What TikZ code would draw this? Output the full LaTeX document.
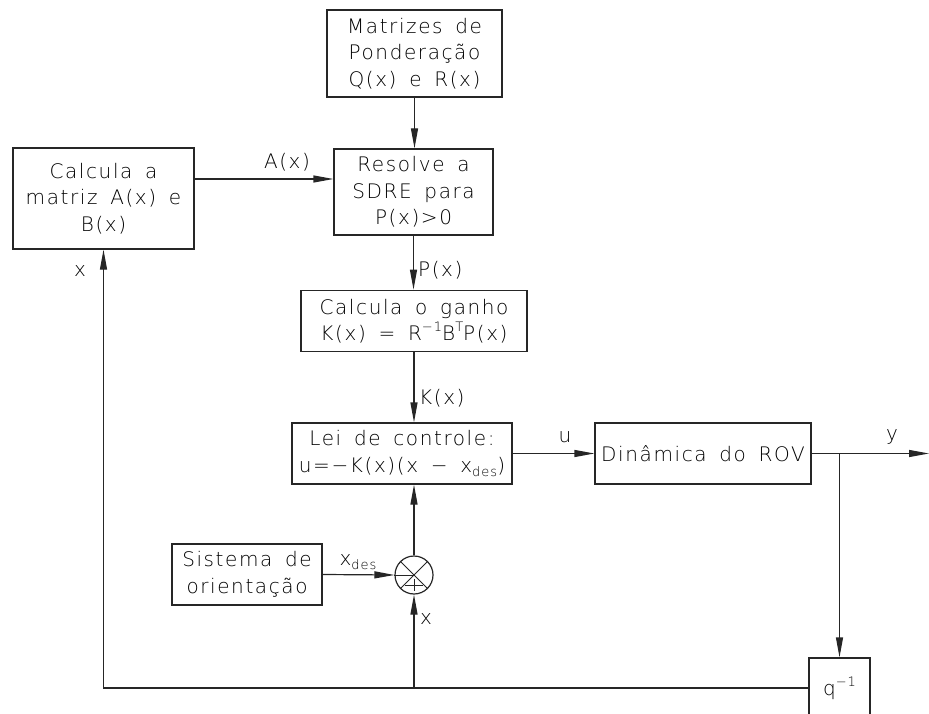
\documentclass[tikz,border=0pt]{standalone}
\usepackage{fontspec}
\IfFontExistsTF{DejaVuSans-ExtraLight.ttf}{\setmainfont{DejaVuSans-ExtraLight.ttf}[LetterSpace=8,WordSpace=1.6]}{\setmainfont{DejaVu Sans}[LetterSpace=8,WordSpace=1.6]}
\usetikzlibrary{arrows.meta}
\newcommand\dn[1]{\raisebox{-0.35ex}{\fontsize{13}{13}\selectfont #1}}
\newcommand\up[1]{\raisebox{0.8ex}{\fontsize{13}{13}\selectfont #1}}
\begin{document}
\begin{tikzpicture}[x=1pt,y=-1pt,
  box/.style={draw=black!85, line width=1.2pt, align=center, inner sep=0pt,
    font=\fontsize{20}{26.5}\selectfont},
  lbl/.style={inner sep=0pt, font=\fontsize{20}{24}\selectfont},
  arr/.style={draw=black!85, line width=1.2pt, -{Triangle[length=20pt,width=7pt]}},
  ln/.style={draw=black!85, line width=1.2pt}]
\useasboundingbox (0,0) rectangle (929,714);
\node[box, minimum width=175pt, minimum height=87pt] (mat) at (414.5,53.5)
  {Matrizes de\\Ponderação\\Q(x) e R(x)};
\node[box, minimum width=159pt, minimum height=86pt] (res) at (413.5,192)
  {Resolve a\\SDRE para\\P(x)>0};
\node[box, minimum width=181pt, minimum height=101pt] (calc) at (103.5,198.5)
  {Calcula a\\matriz A(x) e\\B(x)};
\node[box, minimum width=226pt, minimum height=61.5pt] (gan) at (414,321)
  {Calcula o ganho\\K(x) = R\up{−1}B\up{T}P(x)};
\node[box, minimum width=220pt, minimum height=61pt] (lei) at (402,453.5)
  {Lei de controle:\\u=−K(x)(x − x\dn{des})};
\node[box, minimum width=216pt, minimum height=61pt] (din) at (703,453.5)
  {Dinâmica do ROV};
\node[box, minimum width=150pt, minimum height=61pt] (sis) at (247,574.5)
  {Sistema de\\orientação};
\node[box, minimum width=61pt, minimum height=60pt] (q) at (839.5,688)
  {q\up{−1}};
\node[draw=black!85, line width=1.2pt, circle, minimum size=38pt, inner sep=0pt] (sum) at (414,575) {};
% summing junction marks
\draw[ln, line width=1pt] (sum.45) -- (sum.225) (sum.135) -- (sum.-45);
\draw[ln, line width=1pt] (sum.west) -- (sum.center);
\draw[ln, line width=1pt] ([xshift=-9pt,yshift=-10pt]sum.center) -- ([xshift=9pt,yshift=-10pt]sum.center);
\draw[ln, line width=1pt] ([yshift=-4pt]sum.center) -- ([yshift=-16pt]sum.center);
% connectors
\coordinate (ax) at ([yshift=19.5pt]calc.east);
\coordinate (out) at (929,453.5);
\draw[arr] (mat.south) -- (mat.south |- res.north);
\draw[arr] (ax) -- (ax -| res.west);
\draw[arr] (res.south) -- (res.south |- gan.north);
\draw[arr] (gan.south) -- (gan.south |- lei.north);
\draw[arr] (lei.east) -- (din.west);
\draw[arr] (din.east) -- (out);
\draw[arr] (q.north |- din.east) -- (q.north);
\draw[arr] (q.west) -- (calc.south |- q.west) -- (calc.south);
\draw[arr] (sum.south |- q.west) -- (sum.south);
\draw[arr] (sis.east) -- (sum.west);
\draw[arr] (sum.north) -- (sum.north |- lei.south);
% labels
\node[lbl] (la) at (287,162) {A(x)};
\node[lbl, anchor=west] (lp) at (418,270) {P(x)};
\node[lbl, anchor=west] (lk) at (419,398) {K(x)};
\node[lbl] (lu) at (565,437) {u};
\node[lbl] (ly) at (892,437) {y};
\node[lbl] (lxd) at (358,562) {x\dn{des}};
\node[lbl] (lx1) at (426,619) {x};
\node[lbl] (lx2) at (80,271) {x};
\end{tikzpicture}
\end{document}
